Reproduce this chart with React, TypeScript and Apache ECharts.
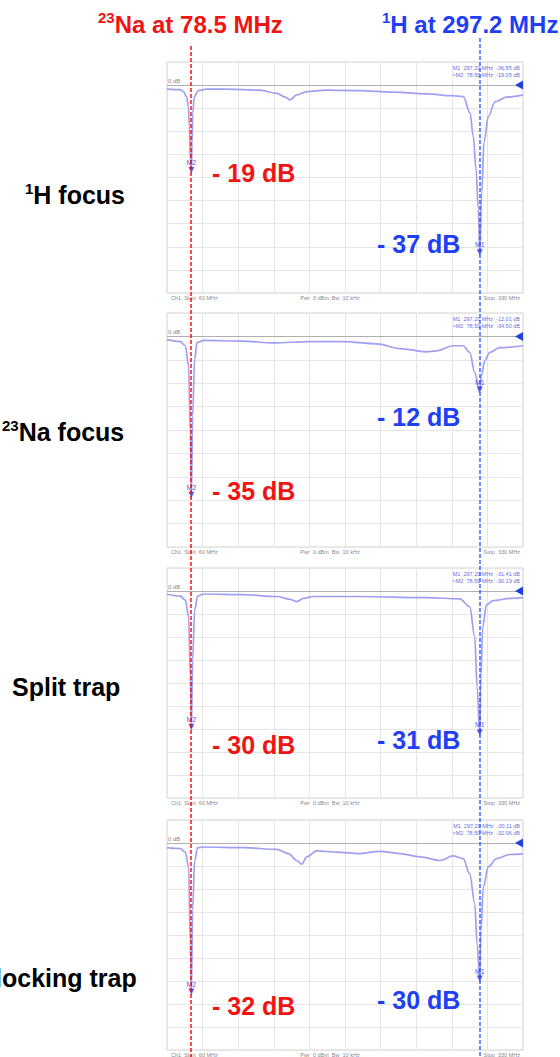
import React, { useEffect, useRef } from "react";
import * as echarts from "echarts";

// ---- data ----
const NA_FREQ = 78.5; // MHz
const H_FREQ = 297.2; // MHz
const START_FREQ = 60;
const STOP_FREQ = 330;
const DB_MIN = -45;
const DB_MAX = 5;

const panelNames = ["H focus", "Na focus", "Split trap", "Blocking trap"];
const panelSup = ["1", "23", "", ""];

const p1Freq = [60, 70.1, 72.4, 74.9, 76.2, 76.9, 77.7, 78.5, 79, 79.5, 80.7, 83.7, 90.1, 105.4, 130.7, 143.3, 149.6, 153.4, 158.4, 166, 181, 206.4, 231.6, 256.8, 277, 284.7, 289.8, 292.3, 294.4, 296.1, 297.2, 298.7, 300.4, 303.7, 308.8, 317.6, 330];
const p1dB = [-0.86, -1.0, -1.4, -2.5, -4.6, -8.9, -16, -19.05, -12.5, -6.1, -2.5, -1.2, -0.86, -0.86, -1.1, -1.8, -2.6, -3.2, -2.1, -1.4, -1.1, -1.2, -1.5, -1.9, -2.3, -2.5, -6.0, -11.1, -18.2, -26.8, -36.85, -23.1, -12.4, -6.8, -3.6, -2.6, -2.1];

const p2Freq = [60, 70.1, 73.9, 76.4, 77.7, 78.5, 79.4, 81, 82.7, 87.8, 118, 140.7, 168.5, 193.7, 219, 236.6, 256.8, 264.4, 277, 284.6, 289.6, 293.4, 297.2, 298.4, 301, 304.8, 312.3, 330];
const p2dB = [-0.7, -1.1, -2.0, -6.3, -20.6, -34.5, -17, -4.9, -1.3, -0.86, -1.0, -1.4, -1.1, -1.1, -1.6, -2.6, -3.3, -3.1, -2.0, -2.0, -3.4, -7.7, -12.01, -8.4, -5.2, -3.4, -2.4, -2.0];

const p3Freq = [60, 70.1, 73.9, 76.4, 77.7, 78.5, 79.4, 81, 83.2, 87.8, 118, 143.3, 153.4, 158.4, 163.5, 171, 206.4, 256.8, 282, 289.6, 293.4, 295.2, 297.2, 298.1, 299.4, 302.3, 307.4, 320, 330];
const p3dB = [-0.7, -1.1, -2.0, -5.6, -18.6, -30.19, -15, -4.1, -1.1, -0.65, -0.8, -1.2, -1.8, -2.3, -1.6, -1.2, -1.2, -1.45, -1.7, -3.4, -9.9, -20.8, -31.41, -18.6, -7.8, -3.0, -2.1, -1.6, -1.45];

const p4Freq = [60, 70.1, 73.9, 76.4, 77.7, 78.5, 79.4, 81, 83.2, 87.8, 118, 143.3, 152.1, 158.4, 162.2, 166, 173.6, 188.8, 206.4, 221.5, 236.6, 251.8, 266.9, 277, 284.6, 289.6, 293.4, 295.2, 297.2, 298.1, 299.9, 303.6, 310, 320, 330];
const p4dB = [-1.0, -1.2, -2.0, -5.2, -21.9, -32.96, -14.6, -3.8, -1.0, -0.87, -1.0, -1.4, -2.3, -3.8, -4.6, -3.0, -1.7, -2.0, -2.3, -1.8, -2.3, -3.0, -3.8, -2.8, -3.4, -6.7, -13.2, -21.9, -30.11, -19, -9.6, -5.2, -3.4, -2.5, -2.3];

const m1Values = [-36.85, -12.01, -31.41, -30.11];
const m2Values = [-19.05, -34.5, -30.19, -32.96];
const naLabels = ["- 19 dB", "- 35 dB", "- 30 dB", "- 32 dB"];
const hLabels = ["- 37 dB", "- 12 dB", "- 31 dB", "- 30 dB"];

const freqSets = [p1Freq, p2Freq, p3Freq, p4Freq];
const dbSets = [p1dB, p2dB, p3dB, p4dB];

// ---- layout ----
const W = 560;
const H = 1057;
const GL = 167;
const GW = 356;
const grids = [
  { top: 62, height: 231 },
  { top: 313, height: 234 },
  { top: 568, height: 230 },
  { top: 820, height: 230 },
];
const naLabelY = [173, 491, 745, 1006];
const hLabelY = [244, 417, 740, 1000];
const nameY = [195, 432, 687, 978];
const nameX = [25, 2, 12, -23];

const FONT = "'Liberation Sans', Arial, Helvetica, sans-serif";
const RED = "#f01414";
const BLUE = "#1f3ff5";
const TRACE = "#a0a0f2";
const MARK = "#5a5ae6";

function buildOption() {
  const grid = grids.map((g) => ({
    left: GL,
    width: GW,
    top: g.top,
    height: g.height,
    show: true,
    borderColor: "#d2d2d2",
    borderWidth: 1,
    backgroundColor: "#fff",
  }));
  const xAxis: any[] = [];
  const yAxis: any[] = [];
  grids.forEach((_, i) => {
    xAxis.push({
      type: "value",
      gridIndex: i,
      min: START_FREQ,
      max: STOP_FREQ,
      show: false,
    });
    yAxis.push({
      type: "value",
      gridIndex: i,
      min: DB_MIN,
      max: DB_MAX,
      interval: 5,
      axisLine: { show: false },
      axisTick: { show: false },
      axisLabel: { show: false },
      splitLine: { show: true, lineStyle: { color: "#e6e6e6", width: 1 } },
    });
  });
  grids.forEach((_, i) => {
    xAxis.push({
      type: "value",
      gridIndex: i,
      min: 0,
      max: 10,
      interval: 1,
      axisLine: { show: false },
      axisTick: { show: false },
      axisLabel: { show: false },
      splitLine: { show: true, lineStyle: { color: "#e6e6e6", width: 1 } },
    });
  });

  const series = grids.map((_, i) => ({
    type: "line",
    xAxisIndex: i,
    yAxisIndex: i,
    data: freqSets[i].map((f, k) => [f, dbSets[i][k]]),
    showSymbol: false,
    smooth: 0.35,
    smoothMonotone: "x",
    lineStyle: { color: TRACE, width: 1.7 },
    z: 3,
    markLine: {
      silent: true,
      symbol: "none",
      animation: false,
      lineStyle: { color: "#b0b0b0", type: "solid", width: 1 },
      label: {
        show: true,
        position: "insideStartTop",
        formatter: "0 dB",
        fontSize: 6,
        color: "#888",
        distance: 1,
      },
      data: [{ yAxis: 0 }],
    },
    markPoint: {
      silent: true,
      animation: false,
      data: [
        {
          coord: [H_FREQ, m1Values[i]],
          symbol: "triangle",
          symbolSize: 6,
          symbolRotate: 180,
          symbolOffset: [0, -3],
          itemStyle: { color: MARK },
          label: { show: true, formatter: "M1", position: "top", fontSize: 7, color: MARK, distance: 1 },
        },
        {
          coord: [NA_FREQ, m2Values[i]],
          symbol: "triangle",
          symbolSize: 6,
          symbolRotate: 180,
          symbolOffset: [0, -3],
          itemStyle: { color: MARK },
          label: { show: true, formatter: "M2", position: "top", fontSize: 7, color: MARK, distance: 1 },
        },
        {
          coord: [STOP_FREQ, 0],
          symbol: "triangle",
          symbolSize: [9, 8],
          symbolRotate: 90,
          symbolOffset: [-4, 0],
          itemStyle: { color: "#2040e0" },
          label: { show: false },
        },
      ],
    },
  }));

  const graphic: any[] = [];
  // headers
  graphic.push({
    type: "text",
    x: 98,
    y: 10,
    z: 20,
    style: {
      text: "{s|23}{m|Na at 78.5 MHz}",
      rich: {
        s: { fontSize: 15, fontWeight: "bold", fontFamily: FONT, fill: RED, verticalAlign: "top", lineHeight: 15 },
        m: { fontSize: 24, fontWeight: "bold", fontFamily: FONT, fill: RED, lineHeight: 28 },
      },
    },
  });
  graphic.push({
    type: "text",
    x: 382,
    y: 10,
    z: 20,
    style: {
      text: "{s|1}{m|H at 297.2 MHz}",
      rich: {
        s: { fontSize: 15, fontWeight: "bold", fontFamily: FONT, fill: BLUE, verticalAlign: "top", lineHeight: 15 },
        m: { fontSize: 24, fontWeight: "bold", fontFamily: FONT, fill: BLUE, lineHeight: 28 },
      },
    },
  });

  grids.forEach((g, i) => {
    // left names
    const sup = panelSup[i];
    graphic.push({
      type: "text",
      x: nameX[i],
      y: nameY[i] - 14,
      z: 20,
      style: {
        text: sup ? `{s|${sup}}{m|${panelNames[i]}}` : `{m|${panelNames[i]}}`,
        rich: {
          s: { fontSize: 15, fontWeight: "bold", fontFamily: FONT, fill: "#000", verticalAlign: "top", lineHeight: 15 },
          m: { fontSize: 25, fontWeight: "bold", fontFamily: FONT, fill: "#000", lineHeight: 28 },
        },
      },
    });
    // dB labels
    graphic.push({
      type: "text",
      x: 212,
      y: naLabelY[i],
      z: 20,
      style: { text: naLabels[i], fontSize: 25, fontWeight: "bold", fontFamily: FONT, fill: RED, verticalAlign: "middle" },
    });
    graphic.push({
      type: "text",
      x: 377,
      y: hLabelY[i],
      z: 20,
      style: { text: hLabels[i], fontSize: 25, fontWeight: "bold", fontFamily: FONT, fill: BLUE, verticalAlign: "middle" },
    });
    // marker readouts
    graphic.push({
      type: "text",
      x: GL + GW - 3,
      y: g.top + 2,
      z: 20,
      style: {
        text: `M1  ${H_FREQ.toFixed(2)} MHz  ${m1Values[i].toFixed(2)} dB\n>M2  ${NA_FREQ.toFixed(2)} MHz  ${m2Values[i].toFixed(2)} dB`,
        fontSize: 5.5,
        lineHeight: 7,
        fontFamily: FONT,
        fill: "#6b6bea",
        align: "right",
        verticalAlign: "top",
      },
    });
    // status line
    const sy = g.top + g.height + 5;
    graphic.push({
      type: "text",
      x: GL + 4,
      y: sy,
      z: 20,
      style: { text: `Ch1  Start  ${START_FREQ} MHz`, fontSize: 5.5, fontFamily: FONT, fill: "#8a8a8a", verticalAlign: "middle" },
    });
    graphic.push({
      type: "text",
      x: GL + GW / 2 - 15,
      y: sy,
      z: 20,
      style: { text: "Pwr  0 dBm  Bw  10 kHz", fontSize: 5.5, fontFamily: FONT, fill: "#8a8a8a", align: "center", verticalAlign: "middle" },
    });
    graphic.push({
      type: "text",
      x: GL + GW - 3,
      y: sy,
      z: 20,
      style: { text: `Stop  ${STOP_FREQ} MHz`, fontSize: 5.5, fontFamily: FONT, fill: "#8a8a8a", align: "right", verticalAlign: "middle" },
    });
  });

  return {
    animation: false,
    backgroundColor: "#fff",
    grid,
    xAxis,
    yAxis,
    series,
    graphic,
  };
}

export default function App() {
  const ref = useRef<HTMLDivElement>(null);
  useEffect(() => {
    if (!ref.current) return;
    const chart = echarts.init(ref.current, null, { renderer: "svg", width: W, height: H });
    const option: any = buildOption();
    chart.setOption(option);
    const xr = Math.round(chart.convertToPixel({ xAxisIndex: 0 }, NA_FREQ) as number);
    const xb = Math.round(chart.convertToPixel({ xAxisIndex: 0 }, H_FREQ) as number);
    const lines = [
      {
        type: "line",
        z: 30,
        shape: { x1: xr, y1: 46, x2: xr, y2: H },
        style: { stroke: "#ff0000", lineWidth: 1.4, lineDash: [4, 2] },
      },
      {
        type: "line",
        z: 30,
        shape: { x1: xb, y1: 38, x2: xb, y2: H },
        style: { stroke: "#1f4fff", lineWidth: 1.3, lineDash: [4, 2] },
      },
    ];
    chart.setOption({ graphic: [...option.graphic, ...lines] });
    return () => chart.dispose();
  }, []);
  return (
    <div
      ref={ref}
      style={{ position: "absolute", left: 0, top: 0, width: W, height: H, background: "#fff" }}
    />
  );
}
